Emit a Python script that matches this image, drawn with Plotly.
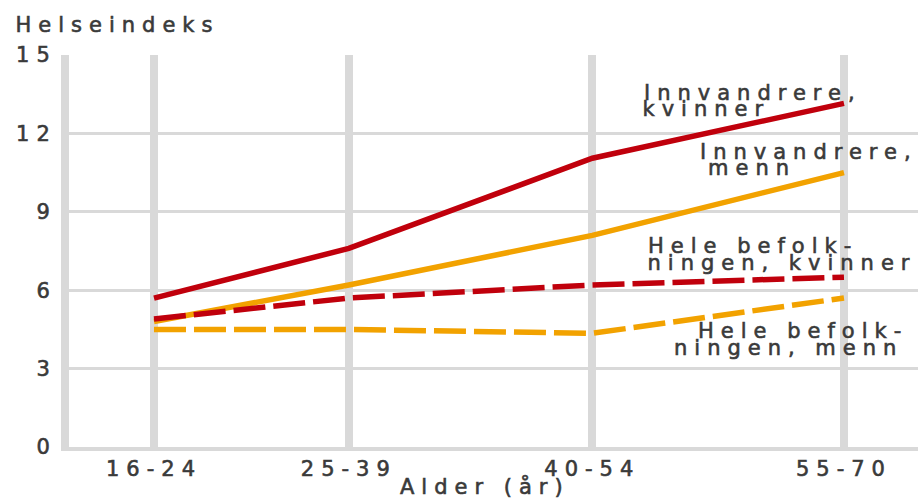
import plotly.graph_objects as go

# Age groups and health index per group
age_groups = ["16-24", "25-39", "40-54", "55-70"]
innv_kvinner = [5.7, 7.6, 11.05, 13.15]
innv_menn = [4.8, 6.2, 8.1, 10.5]
hele_kvinner = [4.9, 5.7, 6.2, 6.5]
hele_menn = [4.5, 4.5, 4.35, 5.7]
y_ticks = [0, 3, 6, 9, 12, 15]

# place each age group at its midpoint age
age_mid = [(int(a.split("-")[0]) + int(a.split("-")[1])) / 2 for a in age_groups]

RED = "#c0000c"
ORANGE = "#f2a200"
GRID = "#d9d9d9"
TEXT = "#3a3a3a"
FONT = "DejaVu Sans"
FS = 21

fig = go.Figure()
series = [
    ("Innvandrere, kvinner", innv_kvinner, RED, "solid"),
    ("Innvandrere, menn", innv_menn, ORANGE, "solid"),
    ("Hele befolkningen, kvinner", hele_kvinner, RED, "32px,8px"),
    ("Hele befolkningen, menn", hele_menn, ORANGE, "32px,8px"),
]
for name, vals, color, dash in series:
    fig.add_trace(go.Scatter(
        x=age_mid, y=vals, mode="lines", name=name,
        line=dict(color=color, width=5.5, dash=dash),
        hoverinfo="skip",
    ))

# line labels, one annotation per text line (paper coordinates)
labels = [
    ("Innvandrere,", 0.806, 0.903),
    ("kvinner", 0.751, 0.863),
    ("Innvandrere,", 0.872, 0.753),
    ("menn", 0.804, 0.711),
    ("Hele befolk-", 0.806, 0.512),
    ("ningen, kvinner", 0.840, 0.469),
    ("Hele befolk-", 0.865, 0.295),
    ("ningen, menn", 0.848, 0.252),
    ("Helseindeks", 0.057, 1.0765),
    ("Alder (år)", 0.4905, -0.102),
]
annotations = [
    dict(x=x, y=y, xref="paper", yref="paper", text=t, showarrow=False,
         xanchor="center", yanchor="middle",
         font=dict(family=FONT, size=FS, color=TEXT))
    for t, x, y in labels
]

fig.update_layout(
    width=918, height=499,
    margin=dict(l=69, r=0, t=55, b=52),
    paper_bgcolor="white", plot_bgcolor="white",
    showlegend=False,
    annotations=annotations,
    font=dict(family=FONT, size=FS, color=TEXT),
)
fig.update_xaxes(
    range=[14.765, 67.06], tickmode="array", tickvals=age_mid, ticktext=age_groups,
    showgrid=True, gridcolor=GRID, gridwidth=8,
    showline=True, linecolor=GRID, linewidth=4,
    zeroline=False, ticks="", ticklen=0, ticklabelstandoff=0,
    tickfont=dict(family=FONT, size=FS, color=TEXT),
)
fig.update_yaxes(
    range=[0, 15], tickmode="array", tickvals=y_ticks,
    showgrid=True, gridcolor=GRID, gridwidth=3,
    showline=True, linecolor=GRID, linewidth=8,
    zeroline=False, ticks="", ticklen=0, ticklabelstandoff=0,
    tickfont=dict(family=FONT, size=FS, color=TEXT),
)

# wide, slightly heavier lettering for all chart text
post = ("var s=document.createElement('style');"
        "s.textContent='.main-svg text{letter-spacing:7px;"
        "stroke:#3a3a3a;stroke-width:0.6px;}';"
        "document.head.appendChild(s);")
fig.write_html("out.html", post_script=post)
